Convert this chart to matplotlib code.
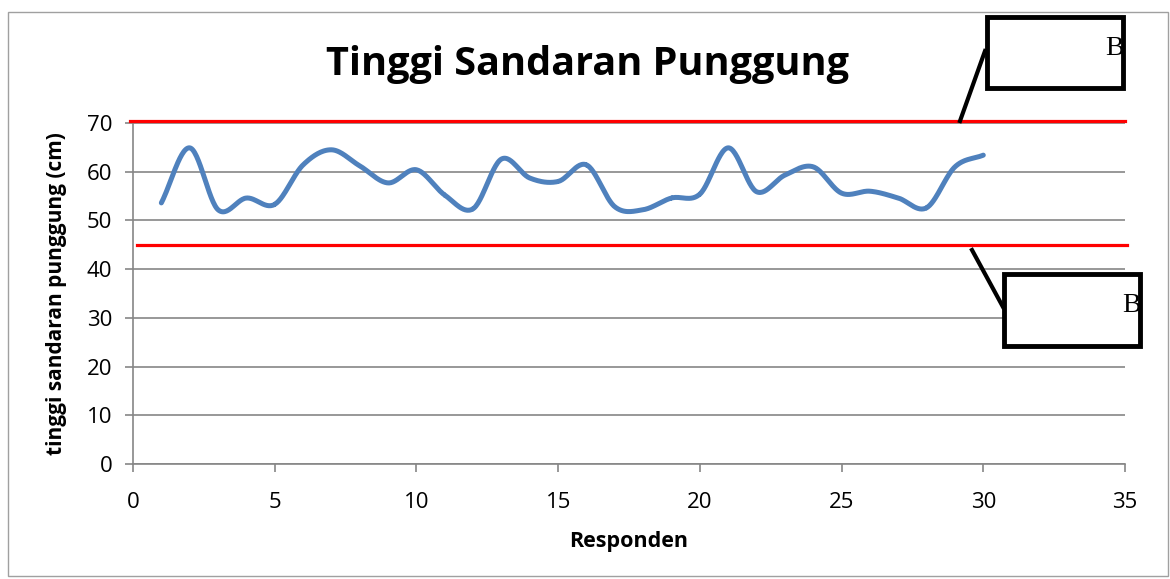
import matplotlib
matplotlib.use('Agg')
import matplotlib.pyplot as plt
from matplotlib.patches import Rectangle
from matplotlib.lines import Line2D
import numpy as np

# data
responden = list(range(1, 31))
tinggi = [53.6, 64.9, 52.2, 54.6, 53.3, 61.4, 64.5, 61.2, 57.7, 60.4,
          55.2, 52.4, 62.6, 58.7, 58.0, 61.4, 52.8, 52.2, 54.6, 55.4,
          64.9, 55.9, 59.3, 61.0, 55.6, 56.0, 54.6, 52.6, 61.0, 63.4]
batas_atas = 70.5
batas_bawah = 45.0
x_ticks = [0, 5, 10, 15, 20, 25, 30, 35]
y_ticks = [0, 10, 20, 30, 40, 50, 60, 70]


def smooth(x, y, n=30):
    # excel-like smoothed line (catmull-rom through the points)
    x = np.asarray(x, float)
    y = np.asarray(y, float)
    px = np.concatenate([[2 * x[0] - x[1]], x, [2 * x[-1] - x[-2]]])
    py = np.concatenate([[2 * y[0] - y[1]], y, [2 * y[-1] - y[-2]]])
    xs, ys = [], []
    t = np.linspace(0, 1, n)
    for i in range(1, len(px) - 2):
        for p, out in ((px, xs), (py, ys)):
            p0, p1, p2, p3 = p[i - 1], p[i], p[i + 1], p[i + 2]
            out.extend(0.5 * ((2 * p1) + (-p0 + p2) * t +
                              (2 * p0 - 5 * p1 + 4 * p2 - p3) * t ** 2 +
                              (-p0 + 3 * p1 - 3 * p2 + p3) * t ** 3))
    return np.array(xs), np.array(ys)


W, H = 1170, 579
fig = plt.figure(figsize=(W / 100, H / 100), dpi=100)
ax = fig.add_axes([133 / W, 1 - 464 / H, (1125 - 133) / W, (464 - 123) / H])

font = 'Open Sans'
grey = '#868686'

sx, sy = smooth(responden, tinggi)
ax.plot(sx, sy, color='#4F81BD', linewidth=3.6, solid_capstyle='round', zorder=3)

ax.plot([-0.1, 35], [batas_atas, batas_atas], color='#FF0000', linewidth=2.3,
        clip_on=False, zorder=4)
ax.plot([0.14, 35.07], [batas_bawah, batas_bawah], color='#FF0000', linewidth=2.3,
        clip_on=False, zorder=4)

ax.set_xlim(0, 35)
ax.set_ylim(0, 70)
ax.set_xticks(x_ticks)
ax.set_yticks(y_ticks)
ax.yaxis.grid(True, color=grey, linewidth=1.2)
ax.set_axisbelow(True)
for s in ['top', 'right']:
    ax.spines[s].set_visible(False)
for s in ['left', 'bottom']:
    ax.spines[s].set_color(grey)
    ax.spines[s].set_linewidth(1.2)
ax.tick_params(axis='x', direction='out', length=6, color=grey, width=1.2, pad=14)
ax.tick_params(axis='y', direction='out', length=6, color=grey, width=1.2, pad=9)
for lab in ax.get_xticklabels() + ax.get_yticklabels():
    lab.set_fontfamily(font)
    lab.set_fontsize(16)

ax.set_xlabel('Responden', fontfamily=font, fontsize=15.5, fontweight='bold', labelpad=13)
ax.set_ylabel('tinggi sandaran punggung (cm)', fontfamily=font, fontsize=15,
              fontweight='bold', labelpad=14)

fig.text(588 / W, 1 - 65 / H, 'Tinggi Sandaran Punggung', fontfamily=font,
         fontsize=28.5, fontweight='bold', ha='center', va='center')

# outer chart border
fig.add_artist(Rectangle((8 / W, 1 - 576 / H), (1168 - 8) / W, (576 - 12) / H,
                         transform=fig.transFigure, fill=False,
                         edgecolor='#A0A0A0', linewidth=1))

# callout boxes
def callout(x0, y0, x1, y1, lx, ly):
    fig.add_artist(Line2D([lx[0] / W, lx[1] / W], [1 - ly[0] / H, 1 - ly[1] / H],
                          transform=fig.transFigure, color='black', linewidth=3))
    fig.add_artist(Rectangle((x0 / W, 1 - y1 / H), (x1 - x0) / W, (y1 - y0) / H,
                             transform=fig.transFigure, facecolor='white',
                             edgecolor='black', linewidth=3.5, zorder=5))
    fig.text((x1 - 18) / W, 1 - ((y0 + y1) / 2 - 4) / H, 'B',
             fontfamily='Liberation Serif', fontsize=20, ha='left', va='center',
             zorder=6)


callout(987, 17, 1123, 88, (960, 985), (121, 51))
callout(1004, 274, 1140, 346, (972, 1003), (250, 307))

fig.savefig('out.png', dpi=100)
